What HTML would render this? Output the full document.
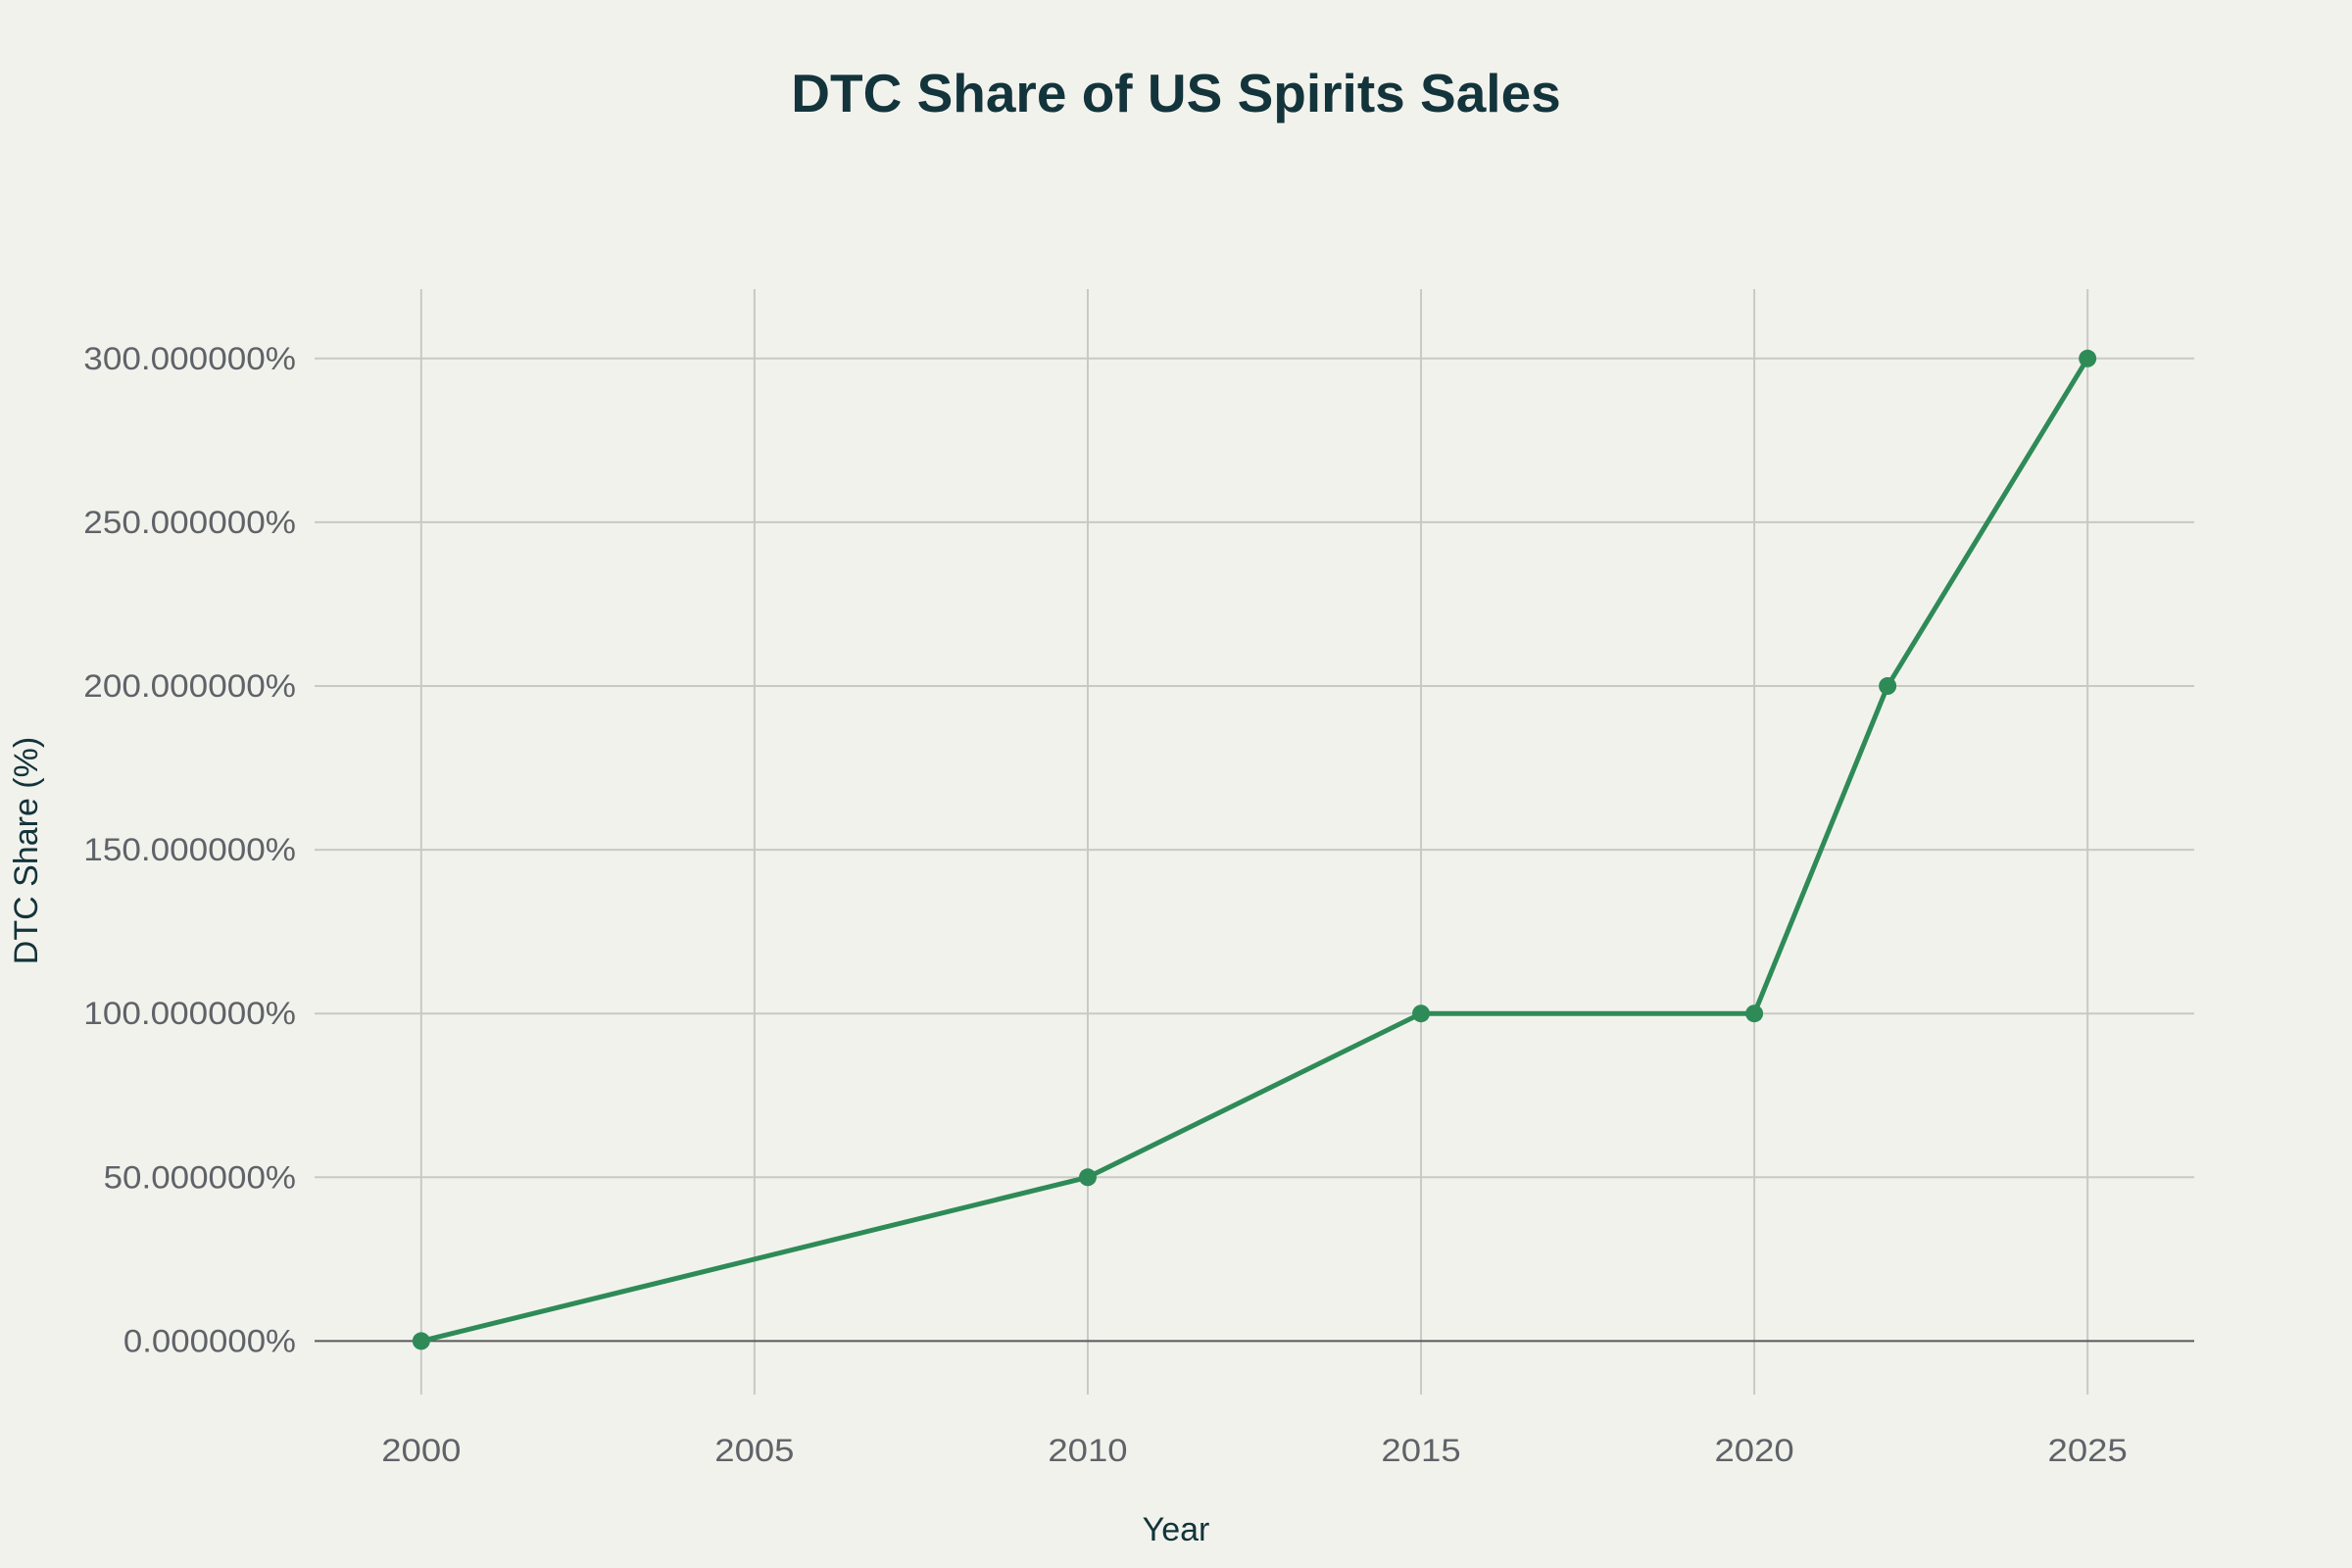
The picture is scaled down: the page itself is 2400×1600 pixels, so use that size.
<!DOCTYPE html>
<html>
<head>
<meta charset="utf-8">
<style>
html,body{margin:0;padding:0;background:#f2f2ed;}
svg{display:block;}
text{font-family:"Liberation Sans",sans-serif;}
</style>
</head>
<body>
<svg id="chart" width="2400" height="1600" viewBox="0 0 2400 1600">
<rect x="0" y="0" width="2400" height="1600" fill="#f2f2ed"/>
<text x="1200" y="114" text-anchor="middle" font-size="55" font-weight="bold" fill="#13343b">DTC Share of US Spirits Sales</text>
<g id="grid"></g>
<g id="yticks"></g>
<g id="xticks"></g>
<g id="series"></g>
<text x="1200" y="1572" text-anchor="middle" font-size="34" fill="#13343b">Year</text>
<text transform="translate(38,868) rotate(-90)" text-anchor="middle" font-size="34" fill="#13343b">DTC Share (%)</text>
</svg>
<script>
const years = [2000, 2010, 2015, 2020, 2022, 2025];
const shares = [0, 50, 100, 100, 200, 300];
const xTicks = [2000, 2005, 2010, 2015, 2020, 2025];
const yTicks = [0, 50, 100, 150, 200, 250, 300];

const NS = "http://www.w3.org/2000/svg";
const L = 321, R = 2239, T = 295, B = 1423;
const xMin = 1998.4, xMax = 2026.6;
const y0px = 1368.4, y300px = 365.8;
function xs(v){ return L + (v - xMin) / (xMax - xMin) * (R - L); }
function ys(v){ return y0px + (v / 300) * (y300px - y0px); }
function mk(tag, attrs, parent){
  const e = document.createElementNS(NS, tag);
  for (const k in attrs) e.setAttribute(k, attrs[k]);
  parent.appendChild(e);
  return e;
}
function labelWidth(s){
  let w = 0;
  for (const ch of s){ w += ch === '.' ? 7 : ch === '%' ? 27 : 20.3; }
  return w;
}
const grid = document.getElementById('grid');
const yt = document.getElementById('yticks');
const xt = document.getElementById('xticks');
const ser = document.getElementById('series');

xTicks.forEach(v => {
  const l = mk('line', {x1: xs(v), x2: xs(v), y1: T, y2: B, stroke: '#c9c9c4', 'stroke-width': 2}, grid);
  
  
  const t = mk('text', {x: xs(v), y: 1491, 'text-anchor': 'middle', 'font-size': 32, fill: '#5f6368', textLength: labelWidth(String(v)), lengthAdjust: 'spacingAndGlyphs'}, xt);
  t.textContent = v;
  
  
});
yTicks.forEach(v => {
  const l = mk('line', {x1: L, x2: R, y1: ys(v), y2: ys(v), stroke: v === 0 ? '#5a5a5a' : '#c9c9c4', 'stroke-width': 2}, grid);
  
  
  const label = v.toFixed(6) + '%';
  const t = mk('text', {x: 302, y: ys(v) + 11, 'text-anchor': 'end', 'font-size': 32, fill: '#5f6368', textLength: labelWidth(label), lengthAdjust: 'spacingAndGlyphs'}, yt);
  t.textContent = label;
  
  
});
const pts = years.map((y, i) => xs(y) + ',' + ys(shares[i])).join(' ');
const pl = mk('polyline', {points: pts, fill: 'none', stroke: '#2e8b57', 'stroke-width': 5, 'stroke-linejoin': 'round'}, ser);


years.forEach((y, i) => {
  const c = mk('circle', {cx: xs(y), cy: ys(shares[i]), r: 9, fill: '#2e8b57'}, ser);
  
  
});
</script>
</body>
</html>
